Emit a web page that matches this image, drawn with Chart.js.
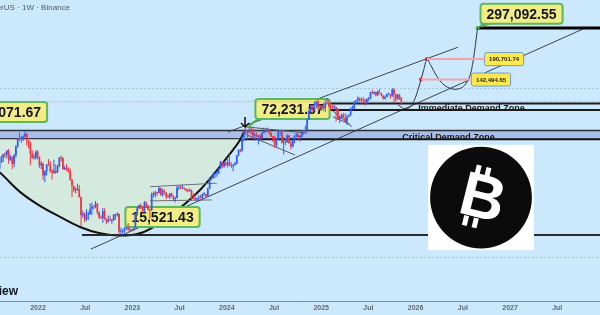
<!DOCTYPE html>
<html>
<head>
<meta charset="utf-8">
<script src="https://cdn.jsdelivr.net/npm/chart.js@4.4.1/dist/chart.umd.min.js"></script>
<style>
  html, body { margin: 0; padding: 0; background: #cce8fc; }
  #wrap { width: 600px; height: 315px; position: relative; }
</style>
</head>
<body>
<div id="wrap"><canvas id="mycanvas"></canvas></div>
<script>
// weekly BTC candles, first week starts Mon 2021-08-02, prices in USD thousands
var firstWeek = Date.UTC(2021, 7, 2);
var firstOpen = 39.9;
var weekClose = [
  43.8,47.0,49.3,48.9,51.8,45.2,47.3,42.8,48.2,54.9,61.5,60.9,61.3,63.3,65.5,59.7,57.3,49.4,46.7,46.7,50.8,47.3,
  41.9,43.1,36.3,38.5,42.4,42.2,38.4,37.7,38.8,37.8,41.3,46.8,46.4,39.7,40.4,39.5,38.5,34.3,31.3,29.4,29.5,29.9,26.6,20.6,21.0,19.3,20.8,20.8,22.6,23.3,23.2,24.3,21.5,20.0,19.8,21.8,19.4,18.8,19.3,19.1,19.2,20.8,20.6,21.0,16.3,16.3,16.5,17.1,17.1,16.8,16.8,16.6,
  17.1,20.9,22.7,23.7,23.3,21.8,24.6,23.6,22.4,22.1,28.0,27.5,28.4,28.3,30.3,27.6,29.2,28.4,26.9,26.7,28.1,27.1,25.9,26.3,30.5,30.6,30.2,30.3,30.1,29.3,29.0,29.3,26.1,26.0,25.8,26.2,26.5,26.3,27.9,27.9,27.0,30.0,34.5,35.0,37.0,37.4,37.4,39.9,43.8,41.4,43.7,42.3,
  43.9,41.7,41.6,42.0,43.0,48.3,52.1,51.7,62.4,68.9,68.4,67.2,69.6,69.4,63.9,64.9,63.1,63.9,61.5,66.3,68.5,67.8,69.6,66.6,63.2,62.7,55.8,60.8,68.2,68.3,58.1,58.7,58.4,64.2,57.3,54.8,60.0,63.3,65.6,62.8,62.9,69.0,68.0,68.8,80.4,90.6,98.0,97.2,101.1,104.4,95.2,93.7,98.3,
  94.5,101.3,102.6,97.7,96.5,96.1,96.3,94.2,80.7,82.6,86.1,82.4,78.4,83.7,85.2,93.7,94.3,104.0,106.5,109.0,105.7,105.6,105.5,101.5,108.4,109.2,119.1,117.3,119.4,114.2,119.3,117.4,113.5,108.2,111.1,115.3,115.3,112.2,123.5,115.2,108.6,114.5,110.5,103.9
];
var weekHigh = [
  45.3,48.1,49.4,50.5,51.9,52.9,48.8,47.3,49.2,56.1,62.0,67.0,63.7,64.3,69.0,66.4,59.9,59.2,51.9,49.5,51.9,52.1,
  47.6,44.5,43.5,38.9,42.6,45.9,44.6,39.8,45.4,42.6,42.3,47.1,48.2,47.2,41.6,42.9,40.8,40.0,34.3,31.0,30.6,32.2,31.7,26.9,21.9,21.5,22.5,21.6,24.3,24.7,23.6,25.2,24.4,21.8,20.6,22.8,22.7,19.7,20.4,20.5,19.5,20.9,21.0,21.5,21.0,17.2,16.9,17.4,17.4,18.4,17.1,16.9,
  17.2,21.3,23.3,23.9,24.3,23.4,25.2,25.1,23.9,22.6,28.5,28.9,29.2,28.8,31.0,30.5,30.0,29.8,28.6,27.6,28.2,28.4,27.3,26.8,31.4,31.0,31.5,31.8,30.4,29.9,30.0,30.2,29.7,28.1,28.2,26.4,27.5,27.5,28.0,28.6,27.9,30.4,35.3,35.9,38.0,37.9,38.4,40.0,44.7,44.0,44.3,43.8,
  45.9,49.0,43.6,42.6,43.9,48.6,52.8,52.9,64.0,70.0,73.8,68.9,71.8,71.3,72.8,66.9,67.2,64.7,65.5,67.5,71.9,70.0,71.9,70.2,67.0,63.4,63.9,61.4,68.4,69.4,70.0,62.7,61.8,65.0,64.5,59.8,60.6,64.1,66.5,65.6,64.5,69.5,69.5,73.6,81.8,93.5,99.6,98.7,104.1,105.3,108.4,99.9,99.0,
  102.7,106.4,109.6,106.5,102.5,98.8,99.5,96.5,95.0,85.3,87.5,88.8,88.5,86.1,86.4,95.8,97.9,104.9,106.7,111.9,110.4,110.4,110.5,108.9,108.5,110.5,119.5,123.2,120.2,119.9,122.3,124.5,117.6,113.5,113.4,116.8,117.9,115.5,125.7,126.2,115.9,116.1,116.4,110.6
];
var weekLow = [
  37.3,43.3,43.9,46.3,46.5,42.8,44.7,39.6,40.8,46.9,53.9,59.5,57.8,59.4,62.3,55.6,53.3,42.0,46.0,45.5,45.6,45.7,
  40.5,39.6,34.0,32.9,36.2,41.7,37.8,34.3,37.2,37.2,37.6,40.8,44.2,39.3,39.2,38.5,37.7,33.7,26.7,28.6,28.0,29.2,26.6,17.6,19.8,18.6,19.0,19.2,20.8,20.7,22.4,22.7,20.8,19.5,19.5,18.5,19.3,18.1,18.5,19.0,18.2,18.9,19.3,20.2,15.6,15.8,15.5,16.0,16.7,16.3,16.4,16.3,
  16.5,17.1,20.4,22.3,22.5,21.4,21.4,22.8,21.9,19.6,21.9,26.6,26.5,27.2,28.2,27.1,26.9,27.7,25.8,26.3,25.9,26.6,25.4,24.8,26.2,29.5,29.9,30.0,29.5,28.9,28.6,28.8,25.2,25.8,25.3,24.9,25.6,26.0,26.0,27.2,26.5,26.9,29.9,33.9,34.5,35.0,35.6,36.9,39.9,40.2,40.5,41.3,
  40.7,41.5,40.3,38.5,41.9,42.5,47.7,50.5,50.9,59.0,64.6,60.8,66.5,64.5,60.7,59.6,62.4,56.5,60.2,60.8,66.6,66.6,67.5,65.1,62.7,58.4,53.5,54.3,59.9,63.4,57.1,49.0,56.1,57.8,57.2,52.6,54.1,57.5,62.7,59.8,58.9,62.4,65.0,67.5,66.8,80.3,89.4,90.7,90.5,94.2,92.2,92.5,91.2,
  91.2,89.3,99.5,96.1,91.2,94.1,93.3,78.3,80.0,76.6,81.1,81.6,77.2,74.5,83.1,85.1,92.8,93.4,100.7,102.0,103.1,100.4,103.0,98.2,100.3,105.1,107.5,115.7,114.7,112.0,112.6,116.8,111.7,107.3,107.3,110.6,114.4,108.6,111.6,102.0,103.5,106.6,106.3,98.9
];

// x axis in decimal years, y axis in USD (log)
var xMin = 2021.5975, xMax = 2027.953;
var yMin = 6055, yMax = 443000;
var xTickYears = [2022, 2022.5, 2023, 2023.5, 2024, 2024.5, 2025, 2025.5, 2026, 2026.5, 2027, 2027.5];
var gridPrices = [11300, 126000];
var lastPrice = 103900;

// drawn levels and lines, [year, price] pairs
var criticalZone = [68800, 60900];
var immediateZone = [101400, 92300];
var immediateStart = 2025.093;
var supportPrice = 15521.43, supportStart = 2022.466;
var targetPrice = 297092.55, targetStart = 2026.656;

var cupYears  = [2021.49, 2021.5975, 2021.809, 2022.021, 2022.233, 2022.445, 2022.657, 2022.869, 2023.081, 2023.292, 2023.504, 2023.716, 2023.854, 2023.981, 2024.066, 2024.140, 2024.193];
var cupPrices = [42100, 37700, 28700, 23500, 20100, 17400, 15900, 15400, 15900, 18400, 22800, 29500, 36500, 45200, 52300, 60200, 69500];

var channelLow  = [[2022.561, 12700], [2027.773, 293000]];
var channelHigh = [[2024.013, 67500], [2026.449, 226000]];
var range2023Top = [[2023.186, 30900], [2023.893, 32500]];
var range2023Bot = [[2023.186, 25250], [2023.840, 25600]];
var flag2024Top = [[2024.193, 72700], [2024.846, 66300]];
var flag2024Bot = [[2024.211, 64700], [2024.722, 48600]];
var flag2025A = [[2025.111, 92300], [2025.324, 72700]];
var flag2025B = [[2025.125, 83700], [2025.305, 75300]];

var projYears  = [2025.814, 2025.877, 2025.930, 2025.983, 2026.031, 2026.057, 2026.089, 2026.118, 2026.163, 2026.216, 2026.269, 2026.333, 2026.417, 2026.492, 2026.544, 2026.587, 2026.619, 2026.640, 2026.656];
var projPrices = [99200, 94300, 95000, 105000, 126000, 142494.65, 166200, 190701.74, 173400, 152100, 137600, 128200, 124000, 127300, 137600, 158800, 202300, 250600, 297092.55];

var stepYears  = [2026.118, 2026.057];
var stepPrices = [190701.74, 142494.65];
var stepText   = ['190,701.74', '142,494.65'];
var stepLabelYears = [2026.937, 2026.799];

var noteText   = ['69,071.67', '72,231.57', '15,521.43', '297,092.55'];
var noteYears  = [2021.703, 2024.696, 2023.319, 2027.122];
var notePrices = [89800, 93600, 20060, 364600];
var notePointYears  = [null, 2024.225, null, 2026.656];
var notePointPrices = [null, 71460, null, 297092.55];

var zoneText   = ['Critical Demand Zone', 'Immediate Demand Zone'];
var zoneYears  = [2026.349, 2026.592];
var zonePrices = [62000, 94300];

var arrowAt = [2024.193, 72400];
var logoBox = [2026.131, 56100, 2027.254, 12500];

var upColor = '#2d5cf6', downColor = '#f2323f';
var fontFam = '"Liberation Sans", Arial, sans-serif';

function decYear(ms) {
  var y = new Date(ms).getUTCFullYear();
  var a = Date.UTC(y, 0, 1), b = Date.UTC(y + 1, 0, 1);
  return y + (ms - a) / (b - a);
}

var wickData = [], bodyData = [], candleColors = [];
var prev = firstOpen;
for (var i = 0; i < weekClose.length; i++) {
  var wx = decYear(firstWeek + (i * 7 + 3.5) * 86400000);
  var o = prev * 1000, c = weekClose[i] * 1000;
  wickData.push({x: wx, y: [weekLow[i] * 1000, weekHigh[i] * 1000]});
  bodyData.push({x: wx, y: [o, c]});
  candleColors.push(c >= o ? upColor : downColor);
  prev = weekClose[i];
}

function pairs(list) {
  return list.map(function(p){ return {x: p[0], y: p[1]}; });
}
function zip(xs, ys) {
  return xs.map(function(x, k){ return {x: x, y: ys[k]}; });
}
function line(label, data, color, width, extra) {
  var ds = {type: 'line', label: label, data: data, borderColor: color, borderWidth: width,
            pointRadius: 0, fill: false, order: 30};
  for (var k in extra) ds[k] = extra[k];
  return ds;
}

var datasets = [
  line('criticalTop', pairs([[xMin - 1, criticalZone[0]], [xMax + 1, criticalZone[0]]]), '#2b2f36', 1.5,
       {fill: '+1', backgroundColor: '#a8bee8', order: 40}),
  line('criticalBottom', pairs([[xMin - 1, criticalZone[1]], [xMax + 1, criticalZone[1]]]), '#111', 2, {order: 39}),
  line('cup', zip(cupYears, cupPrices), '#111', 2,
       {fill: {value: criticalZone[1]}, backgroundColor: '#d4eadf', cubicInterpolationMode: 'monotone', order: 35}),
  line('immediateTop', pairs([[immediateStart, immediateZone[0]], [xMax + 1, immediateZone[0]]]), '#1a1a1a', 2),
  line('immediateBottom', pairs([[immediateStart, immediateZone[1]], [xMax + 1, immediateZone[1]]]), '#1a1a1a', 2),
  line('support', pairs([[supportStart, supportPrice], [xMax + 1, supportPrice]]), '#2a2a2a', 2),
  line('target', pairs([[targetStart, targetPrice], [xMax + 1, targetPrice]]), '#000', 3),
  line('channelLow', pairs(channelLow), '#3d434c', 1),
  line('channelHigh', pairs(channelHigh), '#3d434c', 1),
  line('range2023Top', pairs(range2023Top), '#6b6f76', 1),
  line('range2023Bot', pairs(range2023Bot), '#6b6f76', 1),
  line('flag2024Top', pairs(flag2024Top), '#55595f', 1),
  line('flag2024Bot', pairs(flag2024Bot), '#55595f', 1),
  line('flag2025A', pairs(flag2025A), '#55595f', 1),
  line('flag2025B', pairs(flag2025B), '#55595f', 1),
  {type: 'bar', label: 'wicks', data: wickData, backgroundColor: candleColors, barThickness: 1,
   grouped: false, borderWidth: 0, inflateAmount: 0, order: 2},
  {type: 'bar', label: 'bodies', data: bodyData, backgroundColor: candleColors, barThickness: 1.7,
   grouped: false, borderWidth: 0, inflateAmount: 0, minBarLength: 1, order: 1},
  line('lastPrice', pairs([[xMin - 1, lastPrice], [xMax + 1, lastPrice]]), '#ee7c8a', 1,
       {borderDash: [1, 2], order: 0}),
  line('step190', pairs([[stepYears[0], stepPrices[0]], [stepLabelYears[0] - 0.2, stepPrices[0]]]), '#f4a3ad', 2, {order: 0}),
  line('step142', pairs([[stepYears[1], stepPrices[1]], [stepLabelYears[1] - 0.2, stepPrices[1]]]), '#f4a3ad', 2, {order: 0}),
  line('projection', zip(projYears, projPrices), '#33373d', 1, {cubicInterpolationMode: 'monotone', order: 0}),
  line('stepDots', zip(stepYears, stepPrices), '#ff1f1f', 0,
       {showLine: false, pointRadius: 2, pointBackgroundColor: '#ff1f1f', pointBorderWidth: 0, order: 0}),
  line('targetDot', pairs([[targetStart, targetPrice]]), '#4caf50', 0,
       {showLine: false, pointRadius: 2, pointBackgroundColor: '#4caf50', pointBorderWidth: 0, order: 0})
];

function roundRect(ctx, x, y, w, h, r) {
  ctx.beginPath();
  ctx.moveTo(x + r, y);
  ctx.lineTo(x + w - r, y); ctx.quadraticCurveTo(x + w, y, x + w, y + r);
  ctx.lineTo(x + w, y + h - r); ctx.quadraticCurveTo(x + w, y + h, x + w - r, y + h);
  ctx.lineTo(x + r, y + h); ctx.quadraticCurveTo(x, y + h, x, y + h - r);
  ctx.lineTo(x, y + r); ctx.quadraticCurveTo(x, y, x + r, y);
  ctx.closePath();
}

function drawNotes(chart) {
  var ctx = chart.ctx, xs = chart.scales.x, ys = chart.scales.y;
  ctx.save();
  ctx.textAlign = 'center';
  ctx.textBaseline = 'middle';
  for (var k = 0; k < noteText.length; k++) {
    var cx = xs.getPixelForValue(noteYears[k]), cy = ys.getPixelForValue(notePrices[k]);
    ctx.font = 'bold 14px ' + fontFam;
    var w = ctx.measureText(noteText[k]).width + 12, h = 20;
    var x0 = cx - w / 2, y0 = cy - h / 2;
    if (notePointYears[k] !== null) {
      var tx = xs.getPixelForValue(notePointYears[k]), ty = ys.getPixelForValue(notePointPrices[k]);
      ctx.fillStyle = '#4caf50';
      ctx.strokeStyle = '#4caf50';
      ctx.lineWidth = 2;
      ctx.beginPath();
      if (k === 3) {
        ctx.moveTo(x0 + 3, y0 + h - 2);
        ctx.lineTo(x0 + 13, y0 + h);
        ctx.lineTo(tx, ty);
        ctx.closePath();
        ctx.fill();
      } else {
        ctx.moveTo(x0 + 4, y0 + h);
        ctx.quadraticCurveTo(x0 - 3, y0 + h + 3, tx, ty);
        ctx.stroke();
      }
    }
    roundRect(ctx, x0, y0, w, h, 3);
    ctx.fillStyle = '#f2ec85';
    ctx.fill();
    ctx.lineWidth = 2;
    ctx.strokeStyle = '#5cb85c';
    ctx.stroke();
    ctx.fillStyle = '#131722';
    ctx.fillText(noteText[k], cx, cy + 1);
  }
  for (var j = 0; j < stepText.length; j++) {
    var sx = xs.getPixelForValue(stepLabelYears[j]), sy = ys.getPixelForValue(stepPrices[j]);
    ctx.font = 'bold 6px ' + fontFam;
    var sw = ctx.measureText(stepText[j]).width + 9, sh = 13;
    roundRect(ctx, sx - sw / 2, sy - sh / 2, sw, sh, 2);
    ctx.fillStyle = '#fce94c';
    ctx.fill();
    ctx.lineWidth = 1;
    ctx.strokeStyle = '#6e9bd6';
    ctx.stroke();
    ctx.fillStyle = '#222';
    ctx.fillText(stepText[j], sx, sy + 0.5);
  }
  ctx.restore();
}

var overlay = {
  id: 'overlay',
  beforeDatasetDraw: function(chart, args) {
    if (chart.data.datasets[args.index].label === 'wicks') drawNotes(chart);
  },
  afterDraw: function(chart) {
    var ctx = chart.ctx, xs = chart.scales.x, ys = chart.scales.y;
    ctx.save();
    // zone names
    ctx.font = 'bold 9px ' + fontFam;
    ctx.fillStyle = '#1c1c1c';
    ctx.textAlign = 'center';
    ctx.textBaseline = 'middle';
    for (var k = 0; k < zoneText.length; k++) {
      ctx.fillText(zoneText[k], xs.getPixelForValue(zoneYears[k]), ys.getPixelForValue(zonePrices[k]));
    }
    // arrow above the 2024 top
    var ax = xs.getPixelForValue(arrowAt[0]), ay = ys.getPixelForValue(arrowAt[1]);
    ctx.strokeStyle = '#111';
    ctx.lineWidth = 1.5;
    ctx.beginPath();
    ctx.moveTo(ax, ay - 10); ctx.lineTo(ax, ay);
    ctx.moveTo(ax - 4, ay - 4); ctx.lineTo(ax, ay); ctx.lineTo(ax + 4, ay - 4);
    ctx.stroke();
    // bitcoin logo
    var lx0 = xs.getPixelForValue(logoBox[0]), ly0 = ys.getPixelForValue(logoBox[1]);
    var lx1 = xs.getPixelForValue(logoBox[2]), ly1 = ys.getPixelForValue(logoBox[3]);
    ctx.fillStyle = '#ffffff';
    ctx.fillRect(lx0, ly0, lx1 - lx0, ly1 - ly0);
    var lcx = (lx0 + lx1) / 2, lcy = (ly0 + ly1) / 2;
    ctx.fillStyle = '#0b0b0b';
    ctx.beginPath();
    ctx.arc(lcx, lcy, (lx1 - lx0) * 0.48, 0, Math.PI * 2);
    ctx.fill();
    ctx.translate(lcx, lcy);
    ctx.rotate(14 * Math.PI / 180);
    ctx.fillStyle = '#ffffff';
    ctx.font = 'bold 62px ' + fontFam;
    ctx.fillText('B', 2, 3);
    ctx.fillRect(-12, -31, 5, 10);
    ctx.fillRect(-2, -31, 5, 10);
    ctx.fillRect(-12, 21, 5, 10);
    ctx.fillRect(-2, 21, 5, 10);
    ctx.restore();

    ctx.save();
    ctx.font = '8px ' + fontFam;
    ctx.fillStyle = '#4e5a67';
    ctx.textAlign = 'right';
    ctx.textBaseline = 'middle';
    ctx.fillText('Bitcoin / TetherUS \u00b7 1W \u00b7 Binance', 70, 8);
    ctx.font = 'bold 12px ' + fontFam;
    ctx.fillStyle = '#131722';
    ctx.textBaseline = 'alphabetic';
    ctx.fillText('TradingView', 18, 295);
    ctx.restore();
  }
};

var ctx = document.getElementById('mycanvas');
var btcChart = new Chart(ctx, {
  type: 'line',
  data: {datasets: datasets},
  plugins: [overlay],
  options: {
    responsive: true,
    maintainAspectRatio: false,
    animation: false,
    events: [],
    layout: {padding: 0, autoPadding: false},
    plugins: {legend: {display: false}, tooltip: {enabled: false}},
    elements: {point: {radius: 0}},
    scales: {
      x: {
        type: 'linear',
        min: xMin, max: xMax,
        bounds: 'data',
        offset: false,
        grid: {display: false, offset: false, drawTicks: false},
        border: {display: true, color: '#7d8896', width: 1},
        ticks: {
          autoSkip: false, maxRotation: 0, padding: 3,
          color: '#5f6773', font: {size: 7, weight: 'bold', family: fontFam},
          callback: function(v) {
            return Math.abs(v - Math.round(v)) < 0.01 ? String(Math.round(v)) : 'Jul';
          }
        },
        afterBuildTicks: function(scale) {
          scale.ticks = xTickYears.map(function(v){ return {value: v}; });
        },
        afterFit: function(scale) { scale.height = 14; }
      },
      y: {
        type: 'logarithmic',
        min: yMin, max: yMax,
        bounds: 'data',
        beginAtZero: false,
        ticks: {display: false},
        grid: {color: '#a8c4d8', drawTicks: false},
        border: {display: false, dash: [2, 2]},
        afterBuildTicks: function(scale) {
          scale.ticks = gridPrices.map(function(v){ return {value: v}; });
        },
        afterFit: function(scale) { scale.width = 0; }
      }
    }
  }
});
</script>
</body>
</html>
